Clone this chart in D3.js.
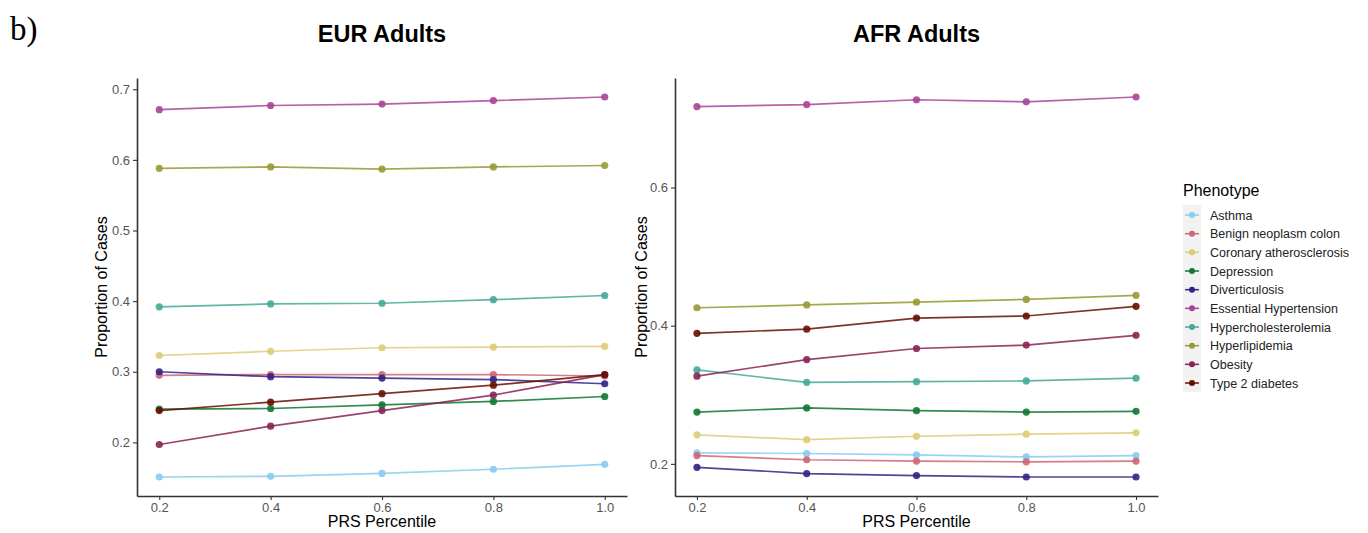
<!DOCTYPE html>
<html>
<head>
<meta charset="utf-8">
<script src="https://cdn.jsdelivr.net/npm/d3@7"></script>
<style>
  body { margin: 0; background: #fff; }
  svg { font-family: "Liberation Sans", Arial, sans-serif; }
</style>
</head>
<body>
<div class="canvas"></div>
<script>
const width = 1368, height = 533

// data
const percentiles = [0.2, 0.4, 0.6, 0.8, 1.0]
const phenotypes = ['Asthma', 'Benign neoplasm colon', 'Coronary atherosclerosis', 'Depression',
  'Diverticulosis', 'Essential Hypertension', 'Hypercholesterolemia', 'Hyperlipidemia',
  'Obesity', 'Type 2 diabetes']
const colours = ['#88CCEE', '#CC6677', '#DDCC77', '#117733', '#332288',
  '#AA4499', '#44AA99', '#999933', '#882255', '#661100']

const eurValues = [
  [0.151, 0.152, 0.156, 0.162, 0.169],
  [0.295, 0.296, 0.296, 0.296, 0.294],
  [0.323, 0.329, 0.334, 0.335, 0.336],
  [0.247, 0.248, 0.253, 0.258, 0.265],
  [0.300, 0.293, 0.291, 0.289, 0.283],
  [0.671, 0.677, 0.679, 0.684, 0.689],
  [0.392, 0.396, 0.397, 0.402, 0.408],
  [0.588, 0.590, 0.587, 0.590, 0.592],
  [0.197, 0.223, 0.245, 0.267, 0.296],
  [0.245, 0.257, 0.269, 0.281, 0.296]
]
const afrValues = [
  [0.216, 0.215, 0.213, 0.210, 0.212],
  [0.212, 0.206, 0.204, 0.203, 0.204],
  [0.242, 0.235, 0.240, 0.243, 0.245],
  [0.275, 0.281, 0.277, 0.275, 0.276],
  [0.195, 0.186, 0.183, 0.181, 0.181],
  [0.717, 0.720, 0.727, 0.724, 0.731],
  [0.336, 0.318, 0.319, 0.320, 0.324],
  [0.426, 0.430, 0.434, 0.438, 0.444],
  [0.327, 0.351, 0.367, 0.372, 0.386],
  [0.389, 0.395, 0.411, 0.414, 0.428]
]
const xTicks = [0.2, 0.4, 0.6, 0.8, 1.0]
const eurYTicks = [0.2, 0.3, 0.4, 0.5, 0.6, 0.7]
const afrYTicks = [0.2, 0.4, 0.6]

const svg = d3.select('.canvas')
  .append('svg')
  .attr('width', width)
  .attr('height', height)

svg.append('text')
  .attr('x', 10).attr('y', 40)
  .attr('font-family', '"Liberation Serif", "Times New Roman", serif')
  .attr('font-size', 33)
  .text('b)')

// ggplot-like 5% expansion
const expand = ext => {
  const pad = (ext[1] - ext[0]) * 0.05
  return [ext[0] - pad, ext[1] + pad]
}

const drawPanel = (left, right, title, values, yTicks, titleGap) => {
  const top = 78, bottom = 496
  const x = d3.scaleLinear().domain(expand(d3.extent(percentiles))).range([left, right])
  const y = d3.scaleLinear().domain(expand(d3.extent(values.flat()))).range([bottom, top])

  const g = svg.append('g')

  g.append('text')
    .attr('x', (left + right) / 2).attr('y', 42)
    .attr('text-anchor', 'middle')
    .attr('font-size', 23.5)
    .attr('font-weight', 'bold')
    .text(title)

  const xAxis = d3.axisBottom(x).tickValues(xTicks).tickFormat(d3.format('.1f'))
    .tickSize(4).tickSizeOuter(0).tickPadding(3)
  const yAxis = d3.axisLeft(y).tickValues(yTicks).tickFormat(d3.format('.1f'))
    .tickSize(4).tickSizeOuter(0).tickPadding(3)

  const xg = g.append('g').attr('transform', `translate(0, ${bottom})`).call(xAxis)
  const yg = g.append('g').attr('transform', `translate(${left}, 0)`).call(yAxis)
  ;[xg, yg].forEach(ag => {
    ag.select('.domain').attr('stroke', '#333').attr('stroke-width', 1.6)
    ag.selectAll('.tick line').attr('stroke', '#333').attr('stroke-width', 1.1)
    ag.selectAll('.tick text').attr('fill', '#555').attr('font-size', 13)
      .attr('font-family', '"Liberation Sans", Arial, sans-serif')
  })

  g.append('text')
    .attr('x', (left + right) / 2).attr('y', 527)
    .attr('text-anchor', 'middle')
    .attr('font-size', 16)
    .text('PRS Percentile')

  g.append('text')
    .attr('transform', `translate(${left - titleGap}, ${(top + bottom) / 2}) rotate(-90)`)
    .attr('text-anchor', 'middle')
    .attr('font-size', 16)
    .text('Proportion of Cases')

  const line = d3.line().x((d, i) => x(percentiles[i])).y(d => y(d))

  values.forEach((series, k) => {
    g.append('path')
      .attr('d', line(series))
      .attr('fill', 'none')
      .attr('stroke', colours[k])
      .attr('stroke-opacity', 0.85)
      .attr('stroke-width', 1.7)
    g.selectAll(null)
      .data(series)
      .enter()
      .append('circle')
      .attr('cx', (d, i) => x(percentiles[i]))
      .attr('cy', d => y(d))
      .attr('r', 3.6)
      .attr('fill', colours[k])
      .attr('fill-opacity', 0.9)
  })
}

drawPanel(137, 627, 'EUR Adults', eurValues, eurYTicks, 30)
drawPanel(675, 1158, 'AFR Adults', afrValues, afrYTicks, 28)

// legend
const legend = svg.append('g').attr('transform', 'translate(1183, 0)')
legend.append('text')
  .attr('x', 0).attr('y', 196)
  .attr('font-size', 16)
  .text('Phenotype')

legend.append('rect')
  .attr('x', 0).attr('y', 205)
  .attr('width', 18).attr('height', 187)
  .attr('fill', '#f2f2f2')

phenotypes.forEach((p, k) => {
  const cy = 215 + k * 18.67
  legend.append('line')
    .attr('x1', 2).attr('x2', 16)
    .attr('y1', cy).attr('y2', cy)
    .attr('stroke', colours[k]).attr('stroke-width', 1.5)
  legend.append('circle')
    .attr('cx', 9).attr('cy', cy).attr('r', 3)
    .attr('fill', colours[k])
  legend.append('text')
    .attr('x', 27).attr('y', cy + 4.5)
    .attr('font-size', 12.5)
    .attr('fill', '#222')
    .text(p)
})
</script>
</body>
</html>
